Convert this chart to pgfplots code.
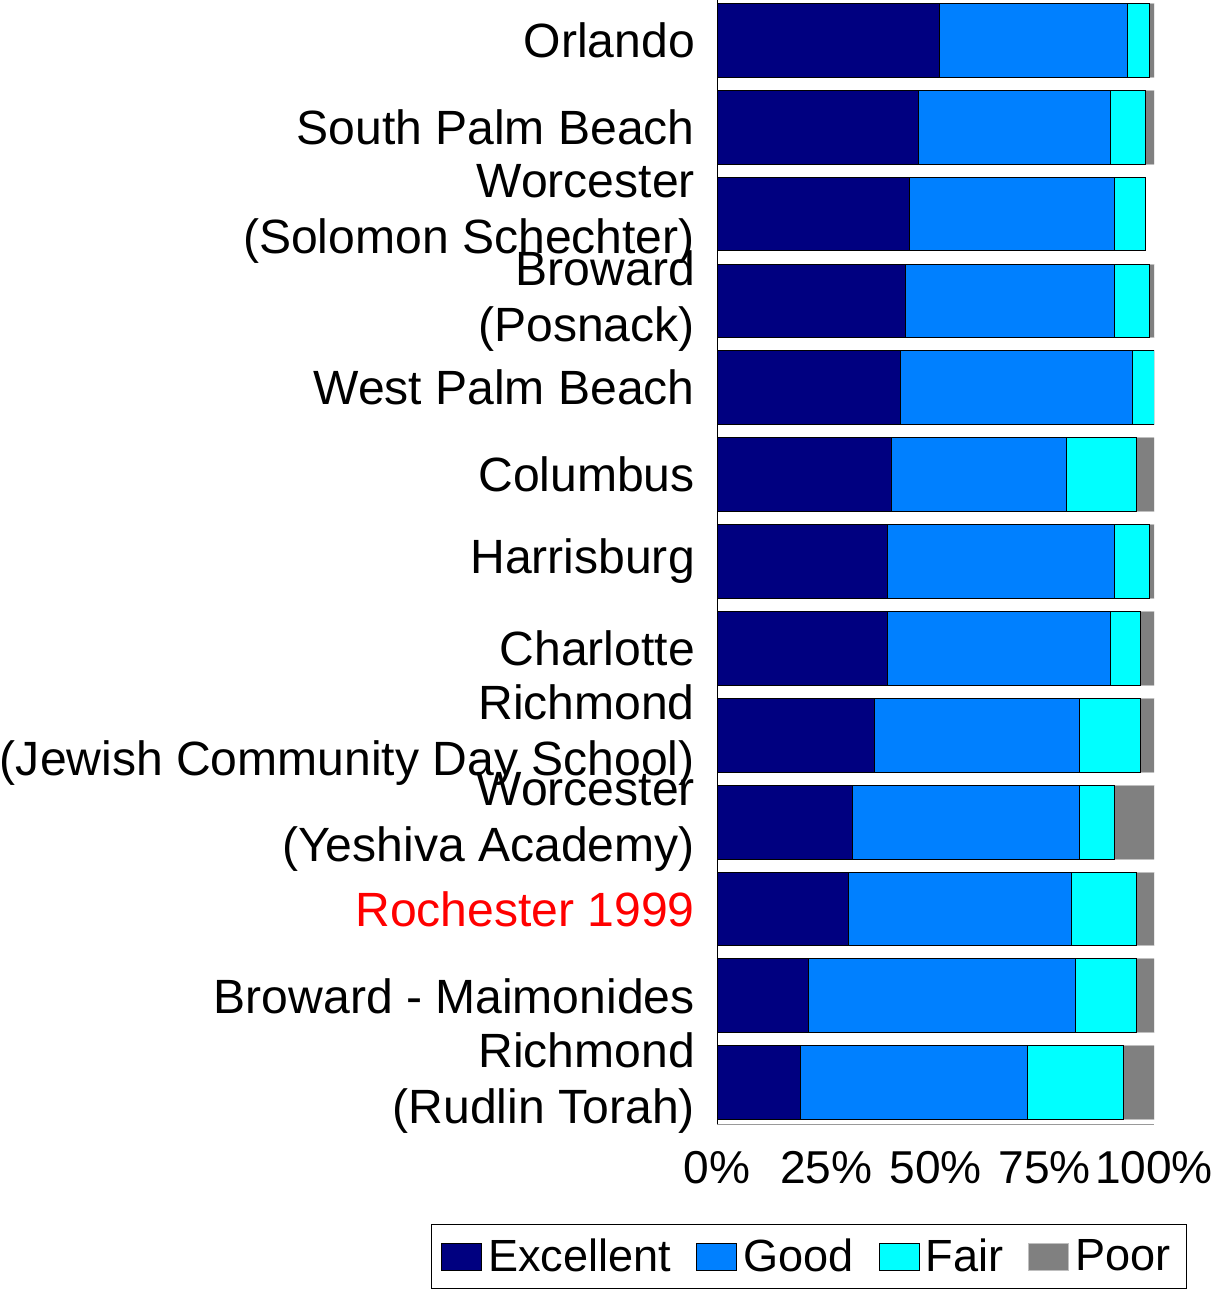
\documentclass[border=0pt]{standalone}
\usepackage{pgfplots}
\usepackage{pgfplotstable}
\pgfplotsset{compat=1.18}
\usepackage{fontspec}
\setmainfont{Liberation Sans}
\definecolor{cExc}{HTML}{000080}
\definecolor{cGood}{HTML}{0080FF}
\definecolor{cFair}{HTML}{00FFFF}
\definecolor{cPoor}{HTML}{808080}
\pgfplotstableread{
y exc good fair poor
12 51 43 5 1
11 46 44 8 2
10 44 47 7 0
9 43 48 8 1
8 42 53 5 0
7 40 40 16 4
6 39 52 8 2
5 39 51 7 3
4 36 47 14 4
3 31 52 8 9
2 30 51 15 4
1 21 61 14 4
0 19 52 22 7
}\datatable
\begin{document}
\begin{tikzpicture}
\begin{axis}[
  width=218pt, height=561pt, scale only axis,
  xbar stacked, bar width=0.85,
  xmin=0, xmax=100, ymin=-0.48, ymax=12.46,
  axis x line*=bottom, axis y line*=left,
  x axis line style={draw=gray!80, -},
  y axis line style={draw=black, -},
  major tick length=0pt,
  xtick={0,25,50,75,100},
  xticklabels={0\%,25\%,50\%,75\%,100\%},
  ytick={0,...,12},
  yticklabels={{Richmond\\(Rudlin Torah)}, {Broward - Maimonides}, {\color{red}Rochester 1999}, {Worcester\\(Yeshiva Academy)}, {Richmond\\(Jewish Community Day School)}, Charlotte, Harrisburg, Columbus, {West Palm Beach}, {Broward\\(Posnack)}, {Worcester\\(Solomon Schechter)}, {South Palm Beach}, Orlando},
  yticklabel style={font=\fontsize{24}{28}\selectfont, align=right, inner xsep=0pt, xshift=-11pt},
  xticklabel style={font=\fontsize{23}{27}\selectfont, inner xsep=0pt, yshift=-10pt},
  legend columns=4,
  legend style={at={(0.21,-0.089)}, anchor=north, draw=black, font=\fontsize{22.5}{27}\selectfont,
    /tikz/every even column/.append style={column sep=9.5pt}, inner xsep=5pt, inner ysep=5pt,
    nodes={inner xsep=3pt}},
  legend image code/.code={\draw[#1] (0pt,-6.75pt) rectangle (20pt,6.75pt);},
]
\addplot[fill=cExc, draw=black, line width=0.5pt] table[x=exc, y=y] {\datatable};
\addplot[fill=cGood, draw=black, line width=0.5pt] table[x=good, y=y] {\datatable};
\addplot[fill=cFair, draw=black, line width=0.5pt] table[x=fair, y=y] {\datatable};
\addplot[fill=cPoor, draw=gray!50, line width=0.5pt] table[x=poor, y=y] {\datatable};
\legend{Excellent, Good, Fair, Poor}
\end{axis}
\end{tikzpicture}
\end{document}
